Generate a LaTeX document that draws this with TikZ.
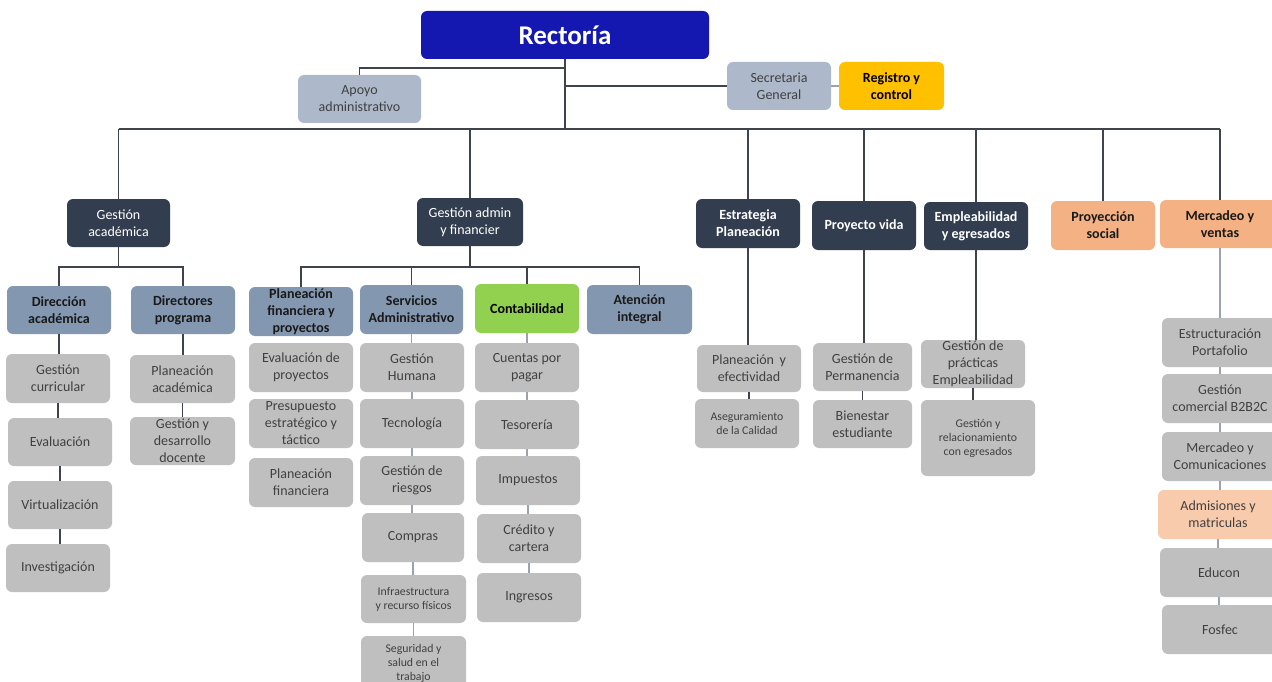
\documentclass[tikz,border=0pt]{standalone}
\usepackage{fontspec}
\setmainfont{Carlito}
\usetikzlibrary{calc}

\definecolor{royal}{HTML}{1518B0}
\definecolor{navy}{HTML}{323E4F}
\definecolor{steel}{HTML}{8497B0}
\definecolor{pale}{HTML}{ADB9CA}
\definecolor{greyfill}{HTML}{BFBFBF}
\definecolor{greytext}{HTML}{404040}
\definecolor{peach}{HTML}{F4B183}
\definecolor{lightpeach}{HTML}{F8CBAD}
\definecolor{leaf}{HTML}{92D050}
\definecolor{gold}{HTML}{FFC000}
\definecolor{linkcol}{HTML}{3F444C}
\definecolor{chaincol}{HTML}{9AA3AE}

\tikzset{
  box/.style={rounded corners=6pt, inner sep=0pt, align=center,
    font=\fontsize{14}{17}\selectfont},
  sz/.style 2 args={minimum width=#1pt, minimum height=#2pt},
  greybox/.style={box, fill=greyfill, text=greytext},
  smallgrey/.style={greybox, font=\fontsize{11.8}{14}\selectfont},
  palebox/.style={box, fill=pale, text=greytext},
  navybox/.style={box, fill=navy, text=white},
  navybold/.style={navybox, font=\fontsize{14}{17}\selectfont\bfseries},
  steelbox/.style={box, fill=steel, text=black!90, font=\fontsize{14}{17}\selectfont\bfseries},
  peachbox/.style={box, fill=peach, text=black!90, font=\fontsize{14}{17}\selectfont\bfseries},
  link/.style={draw=linkcol, line width=1.4pt},
  chain/.style={draw=chaincol, line width=1.2pt},
}

\begin{document}
\begin{tikzpicture}[x=1pt, y=-1pt]
\clip (0,0) rectangle (1272,682);
\fill[white] (0,0) rectangle (1272,682);

% ---- top level
\node[box, fill=royal, text=white, sz={288}{48}, font=\fontsize{27}{30}\selectfont\bfseries]
  (rect) at (565,35) {Rectoría};
\node[palebox, sz={123}{48}] (apoyo) at (359.5,99) {Apoyo\\administrativo};
\node[palebox, sz={104}{48}] (secg) at (779,86) {Secretaria\\General};
\node[box, fill=gold, text=black, sz={105}{48}, font=\fontsize{14}{17}\selectfont\bfseries]
  (reg) at (891.5,86) {Registro y\\control};

% ---- second level
\node[navybox, sz={103}{48}] (gacad) at (118.5,223) {Gestión\\académica};
\node[navybox, sz={106}{48}] (gadm) at (470,222) {Gestión admin\\y financier};
\node[navybold, sz={104}{49}] (estr) at (748,223.5) {Estrategia\\Planeación};
\node[navybold, sz={104}{49}] (pvida) at (864,225.5) {Proyecto vida};
\node[navybold, sz={104}{48}] (empl) at (976,226) {Empleabilidad\\y egresados};
\node[peachbox, sz={104}{49}] (psoc) at (1103,225.5) {Proyección\\social};
\node[peachbox, sz={120}{48}] (mkt) at (1220,224) {Mercadeo y\\ventas};

% ---- academic branch
\node[steelbox, sz={104}{48}] (dirac) at (59,310) {Dirección\\académica};
\node[steelbox, sz={104}{48}] (dirprog) at (183,310) {Directores\\programa};
\node[greybox, sz={104}{49}] (gcurr) at (58,378.5) {Gestión\\curricular};
\node[greybox, sz={104}{48}] (evalu) at (60,442) {Evaluación};
\node[greybox, sz={104}{48}] (virt) at (60,505) {Virtualización};
\node[greybox, sz={104}{48}] (inv) at (58,568) {Investigación};
\node[greybox, sz={105}{48}] (placad) at (182.5,379) {Planeación\\académica};
\node[greybox, sz={105}{48}] (gdoc) at (182.5,441) {Gestión y\\desarrollo\\docente};

% ---- administrative / financial branch
\node[steelbox, sz={104}{49}] (pfin) at (301,311.5) {Planeación\\financiera y\\proyectos};
\node[steelbox, sz={103}{49}] (serv) at (411.5,309.5) {Servicios\\Administrativo};
\node[box, fill=leaf, text=black, sz={104}{49}, font=\fontsize{14}{17}\selectfont\bfseries]
  (cont) at (527,308.5) {Contabilidad};
\node[steelbox, sz={105}{49}] (aten) at (639.5,309.5) {Atención\\integral};

\node[greybox, sz={104}{49}] (evproy) at (301,367.5) {Evaluación de\\proyectos};
\node[greybox, sz={104}{49}] (presu) at (301,423.5) {Presupuesto\\estratégico y\\táctico};
\node[greybox, sz={104}{49}] (plfin) at (301,482.5) {Planeación\\financiera};

\node[greybox, sz={104}{49}] (ghum) at (412,367.5) {Gestión\\Humana};
\node[greybox, sz={104}{49}] (tecno) at (412,423.5) {Tecnología};
\node[greybox, sz={104}{49}] (gries) at (412,480.5) {Gestión de\\riesgos};
\node[greybox, sz={102}{49}] (compr) at (413,537.5) {Compras};
\node[smallgrey, sz={105}{48}] (infra) at (413.5,599) {Infraestructura\\y recurso físicos};
\node[smallgrey, sz={105}{54}] (segur) at (413.5,663) {Seguridad y\\salud en el\\trabajo};

\node[greybox, sz={104}{49}] (cxp) at (527,367.5) {Cuentas por\\pagar};
\node[greybox, sz={104}{49}] (tesor) at (527,424.5) {Tesorería};
\node[greybox, sz={104}{49}] (impu) at (528,480.5) {Impuestos};
\node[greybox, sz={104}{49}] (cred) at (529,538.5) {Crédito y\\cartera};
\node[greybox, sz={104}{49}] (ingr) at (529,597.5) {Ingresos};

% ---- strategy, student life, employability
\node[greybox, sz={104}{47}] (plefe) at (749,368.5) {Planeación\, y\\efectividad};
\node[smallgrey, sz={104}{49}] (asegu) at (747,423.5) {Aseguramiento\\de la Calidad};
\node[greybox, sz={99}{48}] (perma) at (862.5,367) {Gestión de\\Permanencia};
\node[greybox, sz={99}{48}] (bien) at (862.5,424) {Bienestar\\estudiante};
\node[greybox, sz={104}{48}] (pract) at (973,364) {Gestión de\\prácticas\\Empleabilidad};
\node[smallgrey, sz={114}{76}] (relac) at (978,438) {Gestión y\\relacionamiento\\con egresados};

% ---- marketing branch
\node[greybox, sz={116}{49}] (estru) at (1220,342.5) {Estructuración\\Portafolio};
\node[greybox, sz={116}{49}] (gcom) at (1220,398.5) {Gestión\\comercial B2B2C};
\node[greybox, sz={116}{49}] (mcom) at (1220,456.5) {Mercadeo y\\Comunicaciones};
\node[box, fill=lightpeach, text=greytext, sz={120}{49}] (admi) at (1218,514.5) {Admisiones y\\matriculas};
\node[greybox, sz={118}{49}] (educ) at (1219,572.5) {Educon};
\node[greybox, sz={116}{49}] (fosf) at (1220,629.5) {Fosfec};

% ---- connectors: top
\coordinate (busL) at (gacad.north |- 0,129);
\coordinate (busR) at (mkt.north |- 0,129);
\draw[link] (rect.south) -- (rect.south |- busL);
\draw[link] (busL) -- (busR);
\draw[link] (apoyo.north) |- (rect.south |- 0,68);
\draw[link] (rect.south |- secg.west) -- (secg.west);
\draw[chain] (secg.east) -- (reg.west);

\foreach \n in {gacad, gadm, estr, pvida, empl, psoc, mkt}
  \draw[link] (\n.north) -- (\n.north |- busL);

% academic branch
\draw[link] (gacad.south) -- (gacad.south |- 0,267);
\draw[link] (dirac.north) -- (dirac.north |- 0,267) -- (dirprog.north |- 0,267) -- (dirprog.north);
\draw[link] (dirac.south) -- (dirac.south |- gcurr.north);
\draw[link] (gcurr.south) -- (gcurr.south |- evalu.north);
\draw[link] (evalu.south) -- (evalu.south |- virt.north);
\draw[link] (virt.south) -- (virt.south |- inv.north);
\draw[link] (dirprog.south) -- (dirprog.south |- placad.north);
\draw[link] (placad.south) -- (placad.south |- gdoc.north);

% administrative / financial branch
\draw[link] (gadm.south) -- (gadm.south |- 0,267);
\draw[link] (pfin.north) -- (pfin.north |- 0,267) -- (aten.north |- 0,267) -- (aten.north);
\draw[link] (serv.north) -- (serv.north |- 0,267);
\draw[link] (cont.north) -- (cont.north |- 0,267);
\draw[chain] (serv.south) -- (serv.south |- ghum.north);
\draw[chain] (ghum.south) -- (ghum.south |- tecno.north);
\draw[chain] (tecno.south) -- (tecno.south |- gries.north);
\draw[chain] (gries.south) -- (gries.south |- compr.north);
\draw[chain] (compr.south) -- (compr.south |- infra.north);
\draw[chain] (infra.south) -- (infra.south |- segur.north);
\draw[chain] (cont.south) -- (cont.south |- cxp.north);
\draw[chain] (cxp.south) -- (cxp.south |- tesor.north);
\draw[chain] (tesor.south) -- (tesor.south |- impu.north);
\draw[chain] (impu.south) -- (impu.south |- cred.north);
\draw[chain] (cred.south) -- (cred.south |- ingr.north);

% strategy, student life, employability
\draw[link] (estr.south) -- (estr.south |- plefe.north);
\draw[link] (plefe.south) -- (plefe.south |- asegu.north);
\draw[link] (pvida.south) -- (pvida.south |- perma.north);
\draw[link] (perma.south) -- (perma.south |- bien.north);
\draw[link] (empl.south) -- (empl.south |- pract.north);
\draw[link] (pract.south) -- (pract.south |- relac.north);

% marketing branch
\draw[chain] (mkt.south) -- (mkt.south |- estru.north);
\draw[chain] (estru.south) -- (estru.south |- gcom.north);
\draw[chain] (gcom.south) -- (gcom.south |- mcom.north);
\draw[chain] (mcom.south) -- (mcom.south |- admi.north);
\draw[chain] (admi.south) -- (admi.south |- educ.north);
\draw[chain] (educ.south) -- (educ.south |- fosf.north);
\end{tikzpicture}
\end{document}
